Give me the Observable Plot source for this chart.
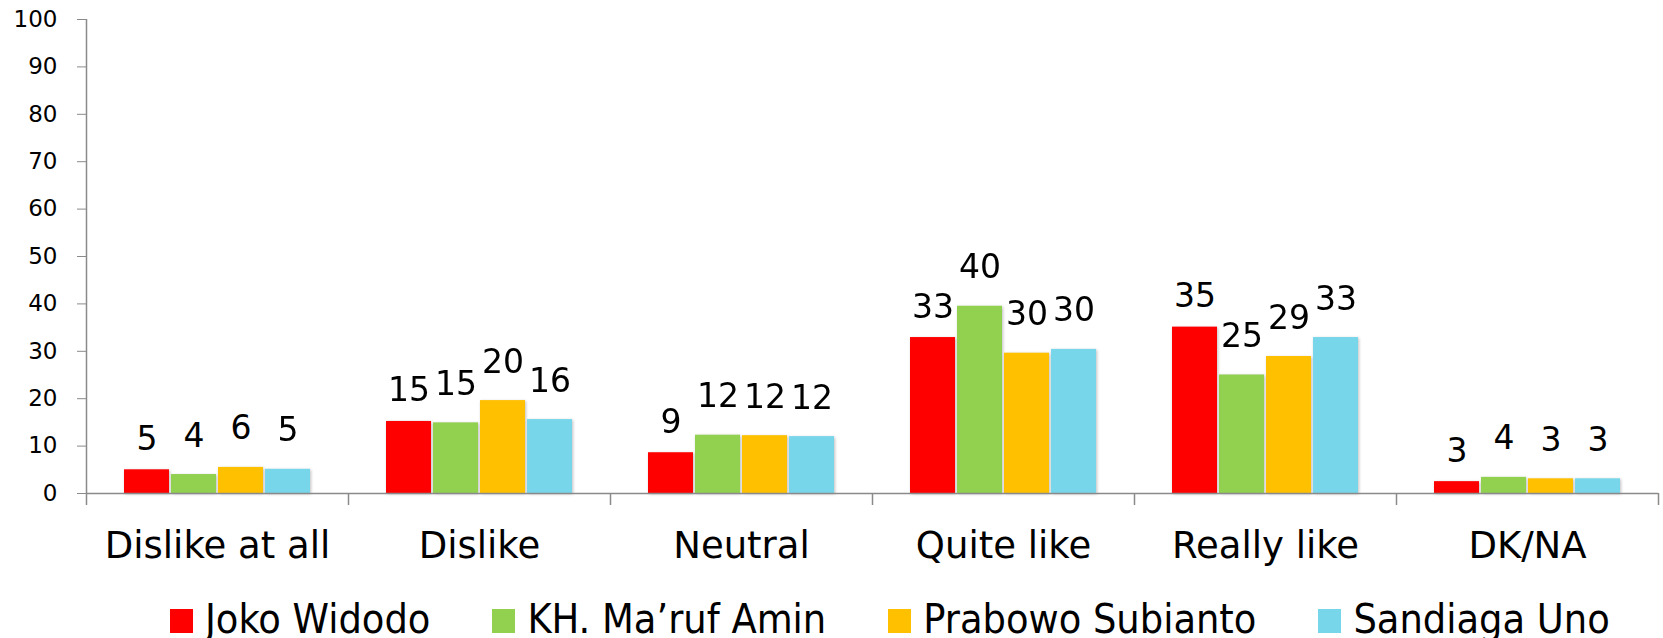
<!DOCTYPE html>
<html>
<head>
<meta charset="utf-8">
<script src="https://cdn.jsdelivr.net/npm/d3@7"></script>
<script src="https://cdn.jsdelivr.net/npm/@observablehq/plot@0.6"></script>
<style>
  html, body { margin: 0; padding: 0; background: #fff; overflow: hidden; }
  #wrap { position: relative; width: 1663px; height: 638px; }
  #legend {
    position: absolute; left: 170px; top: 599px;
    font-family: "DejaVu Sans Condensed", "DejaVu Sans", sans-serif;
    font-size: 41px; line-height: 41px; white-space: nowrap; color: #000;
  }
  .item { display: inline-block; margin-right: 62px; }
  .sw { display: inline-block; width: 23px; height: 24px; margin-right: 12px; vertical-align: baseline; }
</style>
</head>
<body>
<div id="wrap">
  <div id="chart"></div>
  <div id="legend"></div>
</div>
<script>
// ---- data ----
const categories = ["Dislike at all", "Dislike", "Neutral", "Quite like", "Really like", "DK/NA"];
const seriesNames = ["Joko Widodo", "KH. Ma\u2019ruf Amin", "Prabowo Subianto", "Sandiaga Uno"];
const seriesColors = ["#FF0000", "#92D050", "#FFC000", "#78D6EA"];

const jokoWidodo     = [5.0, 15.2, 8.6, 32.9, 35.1, 2.5];
const marufAmin      = [4.0, 14.9, 12.3, 39.5, 25.0, 3.4];
const prabowo        = [5.5, 19.6, 12.2, 29.6, 28.9, 3.1];
const sandiagaUno    = [5.1, 15.6, 12.0, 30.4, 32.9, 3.1];

const jokoLabels     = ["5", "15", "9", "33", "35", "3"];
const marufLabels    = ["4", "15", "12", "40", "25", "4"];
const prabowoLabels  = ["6", "20", "12", "30", "29", "3"];
const sandiagaLabels = ["5", "16", "12", "30", "33", "3"];

const yTicks = [0, 10, 20, 30, 40, 50, 60, 70, 80, 90, 100];

// ---- build table ----
const seriesValues = [jokoWidodo, marufAmin, prabowo, sandiagaUno];
const seriesLabels = [jokoLabels, marufLabels, prabowoLabels, sandiagaLabels];
const rows = [];
seriesNames.forEach((s, i) => {
  categories.forEach((c, j) => {
    rows.push({category: c, series: s, value: seriesValues[i][j], label: seriesLabels[i][j], idx: i});
  });
});

// ---- layout ----
const W = 1663, H = 595;
const mL = 86, mR = 5, mT = 19, mB = H - 493;
const facetW = (W - mL - mR) / categories.length;
const axisGray = "#8a8a8a";

const chart = Plot.plot({
  width: W, height: H,
  marginTop: mT, marginBottom: mB, marginLeft: mL, marginRight: mR,
  style: {fontFamily: "DejaVu Sans", background: "white", color: "black"},
  fx: {domain: categories, padding: 0, axis: null, label: null},
  x: {domain: seriesNames, paddingInner: 0.05, paddingOuter: 0.765, axis: null},
  y: {domain: [0, 100], axis: null},
  color: {domain: seriesNames, range: seriesColors},
  marks: [
    Plot.barY(rows, {fx: "category", x: "series", y: "value", fill: "series"}),
    Plot.ruleY([0], {stroke: axisGray, strokeWidth: 1.5}),
    Plot.text(rows.filter(d => d.idx === 0), {
      fx: "category", x: "series", y: "value", text: "label",
      lineAnchor: "bottom", dy: -20, fontFamily: "DejaVu Sans", fontSize: 33, fill: "black"
    }),
    Plot.text(rows.filter(d => d.idx !== 0), {
      fx: "category", x: "series", y: "value", text: "label",
      lineAnchor: "bottom", dy: -28, fontFamily: "DejaVu Sans", fontSize: 33, fill: "black"
    }),
    Plot.axisY({ticks: yTicks, tickSize: 9, tickPadding: 20, fontSize: 23, stroke: axisGray, fill: "black", label: null}),
    Plot.ruleX([categories[0]], {fx: d => d, x: null, y1: 0, y2: 100, dx: -facetW / 2, stroke: axisGray, strokeWidth: 1.5}),
    Plot.axisFx({anchor: "bottom", tickSize: 0, tickPadding: 38, fontSize: 37, label: null, fill: "black"}),
    Plot.axisFx({anchor: "bottom", tickSize: 12, tickFormat: () => "", dx: -facetW / 2, stroke: axisGray, strokeWidth: 1.5, label: null}),
    Plot.axisFx({anchor: "bottom", ticks: [categories[categories.length - 1]], tickSize: 12, tickFormat: () => "", dx: facetW / 2, stroke: axisGray, strokeWidth: 1.5, label: null})
  ]
});
document.getElementById("chart").appendChild(chart);
chart.querySelectorAll('g[aria-label="bar"]').forEach(g => {
  g.style.filter = "drop-shadow(1px 1px 1.5px rgba(0,0,0,0.25))";
});

// ---- legend ----
const legend = document.getElementById("legend");
seriesNames.forEach((s, i) => {
  const item = document.createElement("span");
  item.className = "item";
  const sw = document.createElement("span");
  sw.className = "sw";
  sw.style.background = seriesColors[i];
  item.appendChild(sw);
  item.appendChild(document.createTextNode(s));
  legend.appendChild(item);
});
</script>
</body>
</html>
